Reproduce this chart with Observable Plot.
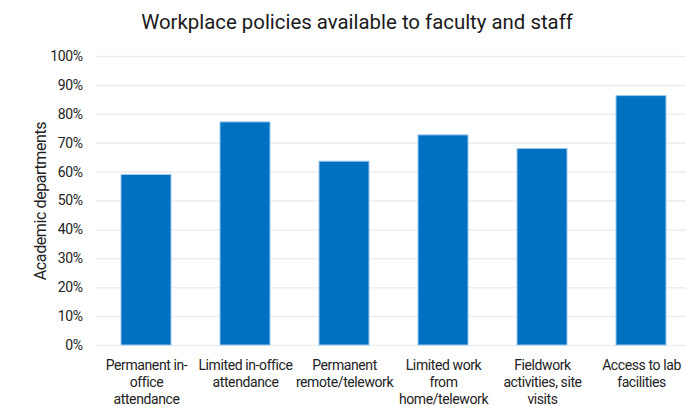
<!DOCTYPE html>
<html>
<head>
<meta charset="utf-8">
<script src="https://cdn.jsdelivr.net/npm/d3@7"></script>
<script src="https://cdn.jsdelivr.net/npm/@observablehq/plot@0.6"></script>
<style>
  html, body { margin: 0; padding: 0; background: #fff; }
  body { width: 686px; height: 406px; overflow: hidden; font-family: Roboto, sans-serif; }
  #title { height: 40px; line-height: 44px; font-size: 20.4px; color: #1a1a1a; text-align: center; padding-left: 28px; box-sizing: border-box; width: 686px; white-space: nowrap; }
  #chart svg text { letter-spacing: -0.4px; }
  #chart svg text.ylab { letter-spacing: 0; }
</style>
</head>
<body>
<div id="title">Workplace policies available to faculty and staff</div>
<div id="chart"></div>
<script>
const categories = [
  "Permanent in-\noffice\nattendance",
  "Limited in-office\nattendance",
  "Permanent\nremote/telework",
  "Limited work\nfrom\nhome/telework",
  "Fieldwork\nactivities, site\nvisits",
  "Access to lab\nfacilities"
];
const values = [59.0, 77.2, 63.6, 72.7, 68.0, 86.3];
const yTicks = [0, 10, 20, 30, 40, 50, 60, 70, 80, 90, 100];

const data = categories.map((c, i) => ({category: c, value: values[i]}));

const chart = Plot.plot({
  width: 686,
  height: 366,
  marginTop: 16,
  marginBottom: 61,
  marginLeft: 96,
  marginRight: 0,
  style: {fontFamily: "Roboto, sans-serif", fontSize: "14px", color: "#222", background: "#fff"},
  x: {domain: categories, range: [96, 690], paddingInner: 0.5, paddingOuter: 0.25, label: null},
  y: {domain: [0, 100], label: null},
  marks: [
    Plot.ruleY(yTicks, {stroke: "#ededed", strokeWidth: 1.5}),
    Plot.axisY({ticks: yTicks, tickFormat: d => d + "%", tickSize: 0, tickPadding: 14, fontSize: 14, label: null}),
    Plot.axisX({tickSize: 0, tickPadding: 12, fontSize: 14, lineHeight: 1.22, label: null}),
    Plot.barY(data, {x: "category", y: "value", fill: "#0070C0", stroke: "#9cc8ee", strokeWidth: 1, inset: 0}),
    Plot.text(["Academic departments"], {frameAnchor: "left", dx: -56, rotate: -90, textAnchor: "middle", fontSize: 16, fill: "#222", className: "ylab"})
  ]
});
document.getElementById("chart").appendChild(chart);
</script>
</body>
</html>
